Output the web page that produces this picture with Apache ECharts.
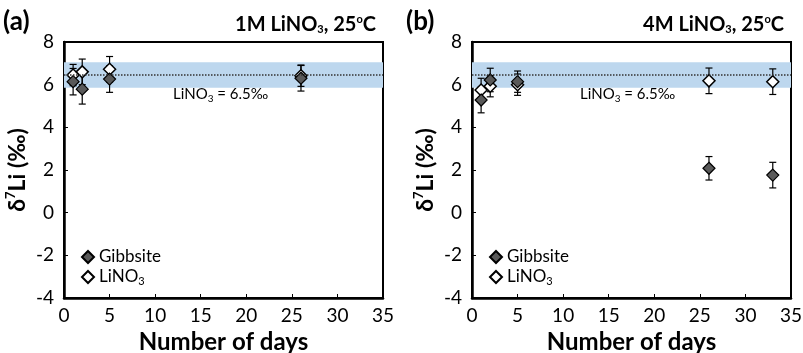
<!DOCTYPE html>
<html><head><meta charset="utf-8">
<script src="https://cdn.jsdelivr.net/npm/echarts@6/dist/echarts.min.js"></script>
<style>html,body{margin:0;padding:0;background:#fff}#c{width:803px;height:353px}</style>
</head><body><div id="c"></div>
<script>
// panel (a): 1M LiNO3
const daysA=[1,2,5,26];
const gibbA=[6.14,5.79,6.26,6.30];
const gibbErrA=[0.62,0.7,0.62,0.6];
const linoA=[6.45,6.6,6.72,6.42];
const linoErrA=[0.5,0.6,0.6,0.5];
// panel (b): 4M LiNO3
const daysB=[1,2,5,26,33];
const gibbB=[5.28,6.22,6.14,2.08,1.76];
const gibbErrB=[0.6,0.55,0.5,0.55,0.6];
const linoB=[5.75,5.93,6.0,6.18,6.14];
const linoErrB=[0.55,0.5,0.5,0.6,0.6];
// reference LiNO3 value and band
const refLine=6.45;
const refBand=[5.85,7.05];
const xTicks=[0,35,5];
const yTicks=[-4,8,2];

const FONT='Lato';
const myChart=echarts.init(document.getElementById('c'));
const pts=(xs,ys)=>xs.map((x,i)=>[x,ys[i]]);
const errs=(xs,ys,es)=>xs.map((x,i)=>[x,ys[i]-es[i],ys[i]+es[i]]);

function errItem(params,api){
  const x=api.value(0),lo=api.value(1),hi=api.value(2);
  const a=api.coord([x,hi]),b=api.coord([x,lo]);
  const w=3.5;
  const st={stroke:'#000',lineWidth:1.2};
  return {type:'group',children:[
    {type:'line',shape:{x1:a[0],y1:a[1],x2:b[0],y2:b[1]},style:st},
    {type:'line',shape:{x1:a[0]-w,y1:a[1],x2:a[0]+w,y2:a[1]},style:st},
    {type:'line',shape:{x1:b[0]-w,y1:b[1],x2:b[0]+w,y2:b[1]},style:st}
  ]};
}

const grids=[{left:64,top:42,width:319,height:256},{left:472,top:42,width:319,height:256}];
const subRich={
  sub:{fontSize:11,fontFamily:FONT,verticalAlign:'bottom',padding:[9,0,0,0]},
};

function xAx(i){
  return {gridIndex:i,type:'value',min:xTicks[0],max:xTicks[1],interval:xTicks[2],
    name:'Number of days',nameLocation:'middle',nameGap:27,
    nameTextStyle:{fontFamily:FONT,fontWeight:'bold',fontSize:24,color:'#000'},
    axisLine:{onZero:false,lineStyle:{color:'#000',width:2.5}},
    axisTick:{inside:true,length:4,lineStyle:{color:'#000',width:1}},
    axisLabel:{fontFamily:FONT,fontSize:19,color:'#000',margin:8},
    splitLine:{show:false}};
}
function yAx(i){
  return {gridIndex:i,type:'value',min:yTicks[0],max:yTicks[1],interval:yTicks[2],
    name:'δ{sup|7}Li (‰)',nameLocation:'middle',nameGap:29,nameRotate:90,
    nameTextStyle:{fontFamily:FONT,fontWeight:'bold',fontSize:23,color:'#000',lineHeight:28,
      rich:{sup:{fontFamily:FONT,fontWeight:'bold',fontSize:13,verticalAlign:'top',padding:[0,0,9,0]}}},
    axisLine:{onZero:false,lineStyle:{color:'#000',width:2.5}},
    axisTick:{inside:true,length:4,lineStyle:{color:'#000',width:1}},
    axisLabel:{fontFamily:FONT,fontSize:19,color:'#000',margin:10},
    splitLine:{show:false}};
}

function panelSeries(i,days,gib,gibE,lin,linE){
  return [
    {type:'custom',xAxisIndex:i,yAxisIndex:i,renderItem:errItem,encode:{x:0,y:[1,2]},
      data:errs(days,lin,linE),z:2,silent:true},
    {type:'custom',xAxisIndex:i,yAxisIndex:i,renderItem:errItem,encode:{x:0,y:[1,2]},
      data:errs(days,gib,gibE),z:2,silent:true},
    {name:'LiNO3',type:'scatter',xAxisIndex:i,yAxisIndex:i,symbol:'diamond',symbolSize:12,z:3,
      itemStyle:{color:'#fff',borderColor:'#000',borderWidth:1.5,opacity:1},
      data:pts(days,lin),
      markArea:{silent:true,itemStyle:{color:'#bdd7ee'},data:[[{yAxis:refBand[0]},{yAxis:refBand[1]}]]},
      markLine:{silent:true,symbol:'none',label:{show:false},
        lineStyle:{color:'#333',type:'dotted',width:1.5},data:[{yAxis:refLine}]}},
    {name:'Gibbsite',type:'scatter',xAxisIndex:i,yAxisIndex:i,symbol:'diamond',symbolSize:12,z:4,
      itemStyle:{color:'#595959',borderColor:'#000',borderWidth:1.2,opacity:1},
      data:pts(days,gib)}
  ];
}

function legend(left){
  return {left:left,top:247,orient:'vertical',itemWidth:12,itemHeight:12,itemGap:0,
    icon:'diamond',selectedMode:false,padding:0,
    data:['Gibbsite','LiNO3'],
    formatter:n=>n==='LiNO3'?'LiNO{sub|3}':n,
    textStyle:{fontFamily:FONT,fontSize:17,color:'#000',lineHeight:20,rich:subRich}};
}

function texts(x0,tag,title,titleRight,labelLeft){
  return [
    {type:'text',left:x0,top:9,style:{text:tag,font:'bold 26px '+FONT,fill:'#000'}},
    {type:'text',right:titleRight,top:14,style:{
      text:title,font:'bold 20px '+FONT,fill:'#000',
      rich:{sub:{font:'bold 11px '+FONT,padding:[10,0,0,0],verticalAlign:'bottom'},
            sup:{font:'bold 11px '+FONT,padding:[0,0,8,0],verticalAlign:'top'}}}},
    {type:'text',left:labelLeft,top:87,style:{
      text:'LiNO{sub|3} = 6.5‰',font:'15px '+FONT,fill:'#000',
      rich:{sub:{font:'10px '+FONT,padding:[8,0,0,0],verticalAlign:'bottom'}}}}
  ];
}

const option={
  animation:false,
  grid:grids.map(g=>Object.assign({show:true,borderColor:'#000',borderWidth:2,backgroundColor:'transparent',
    containLabel:false,outerBoundsMode:'none'},g)),
  xAxis:[xAx(0),xAx(1)],
  yAxis:[yAx(0),yAx(1)],
  legend:[legend(81),legend(489)],
  graphic:[
    ...texts(3,'(a)','1M LiNO{sub|3}, 25{sup|o}C',427,173),
    ...texts(406,'(b)','4M LiNO{sub|3}, 25{sup|o}C',19,580)
  ],
  series:[
    ...panelSeries(0,daysA,gibbA,gibbErrA,linoA,linoErrA),
    ...panelSeries(1,daysB,gibbB,gibbErrB,linoB,linoErrB)
  ]
};
option && myChart.setOption(option);
</script>
</body></html>
